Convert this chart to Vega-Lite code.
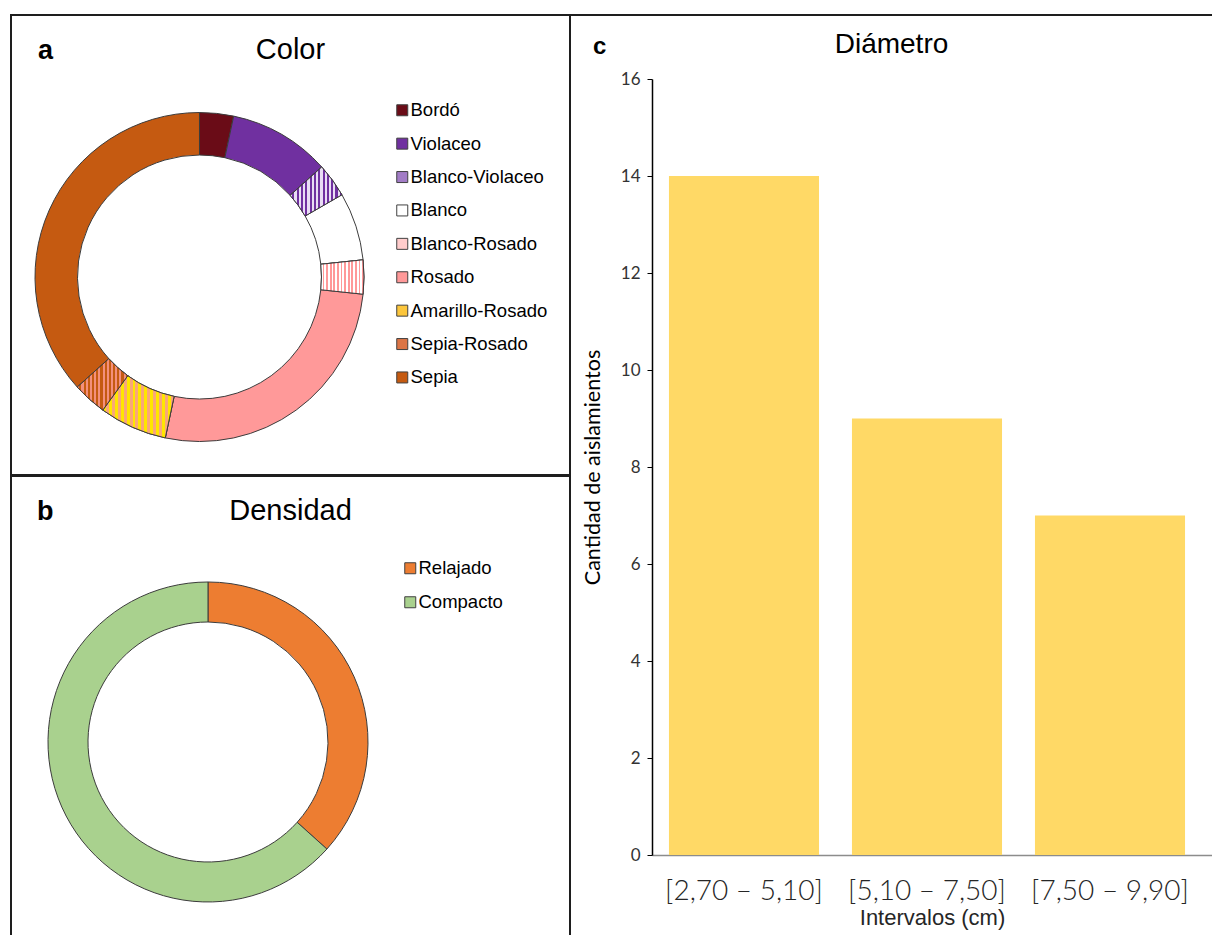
{
  "$schema": "https://vega.github.io/schema/vega-lite/v6.json",
  "padding": {"left": 10, "top": 14, "right": 0, "bottom": 0},
  "background": "white",
  "spacing": -2,
  "config": {"view": {"stroke": null}, "font": "Liberation Sans"},
  "resolve": {"scale": {"color": "independent", "theta": "independent", "x": "independent", "y": "independent"}, "legend": {"color": "independent"}},
  "hconcat": [
    {
      "spacing": -2,
      "resolve": {"scale": {"color": "independent", "theta": "independent", "x": "independent", "y": "independent"}, "legend": {"color": "independent"}},
      "vconcat": [
        {
          "spacing": 0,
          "title": {"text": "Color", "anchor": "middle", "frame": "bounds", "orient": "top", "baseline": "alphabetic", "offset": -74, "font": "Liberation Sans", "fontSize": 29, "fontWeight": "normal", "color": "#000000"},
          "vconcat": [
            {
              "width": 559,
              "height": 460,
              "view": {"stroke": "#1e1e1e", "strokeWidth": 2},
              "title": {"text": "a", "anchor": "start", "frame": "group", "orient": "top", "baseline": "alphabetic", "offset": -71, "dx": 27, "font": "Liberation Sans", "fontSize": 27, "fontWeight": "bold", "color": "#000000"},
              "data": {"values": [
                {"color": "Bordó", "aislamientos": 1},
                {"color": "Violaceo", "aislamientos": 3},
                {"color": "Blanco-Violaceo", "aislamientos": 1},
                {"color": "Blanco", "aislamientos": 2},
                {"color": "Blanco-Rosado", "aislamientos": 1},
                {"color": "Rosado", "aislamientos": 8},
                {"color": "Amarillo-Rosado", "aislamientos": 2},
                {"color": "Sepia-Rosado", "aislamientos": 1},
                {"color": "Sepia", "aislamientos": 11}
              ]},
              "transform": [
                {"window": [{"op": "row_number", "as": "orden"}]},
                {"stack": "aislamientos", "groupby": [], "sort": [{"field": "orden", "order": "ascending"}], "as": ["inicio", "fin"]}
              ],
              "encoding": {
                "x": {"datum": 0.3372, "type": "quantitative", "scale": {"domain": [0, 1], "nice": false, "zero": false}, "axis": null},
                "y": {"datum": 0.4304, "type": "quantitative", "scale": {"domain": [0, 1], "nice": false, "zero": false}, "axis": null},
                "theta": {"field": "inicio", "type": "quantitative", "scale": {"domain": [0, 30]}},
                "theta2": {"field": "fin"}
              },
              "layer": [
                {
                  "mark": {"type": "arc", "outerRadius": 164.5, "innerRadius": 122, "stroke": "#3c3c3c", "strokeWidth": 1},
                  "encoding": {
                    "color": {
                      "field": "color",
                      "type": "nominal",
                      "scale": {
                        "domain": ["Bordó", "Violaceo", "Blanco-Violaceo", "Blanco", "Blanco-Rosado", "Rosado", "Amarillo-Rosado", "Sepia-Rosado", "Sepia"],
                        "range": ["#6a0c17", "#7030a0", "#a27cc6", "#ffffff", "#ffcccc", "#ff9999", "#fcc63c", "#dc7546", "#c55a11"]
                      },
                      "legend": {"title": null, "orient": "none", "direction": "vertical", "legendX": 382, "legendY": 86, "padding": 0, "symbolType": "square", "symbolSize": 121, "symbolStrokeColor": "#404040", "symbolStrokeWidth": 1, "symbolOpacity": 1, "labelFont": "Liberation Sans", "labelFontSize": 18.5, "labelColor": "#000000", "labelOffset": -1, "rowPadding": 14.4, "labelLimit": 300}
                    }
                  }
                },
                {
                  "transform": [{"filter": "datum.color === 'Blanco-Violaceo'"}],
                  "mark": {"type": "arc", "outerRadius": 164.5, "innerRadius": 122, "stroke": "#3c3c3c", "strokeWidth": 1,
                    "fill": {"gradient": "linear", "x1": 0, "y1": 0, "x2": 1, "y2": 0, "stops": [
                      {"offset": 0, "color": "#e9ddf4"}, {"offset": 0.0417, "color": "#e9ddf4"}, {"offset": 0.0417, "color": "#7030a0"}, {"offset": 0.0833, "color": "#7030a0"},
                      {"offset": 0.0833, "color": "#e9ddf4"}, {"offset": 0.125, "color": "#e9ddf4"}, {"offset": 0.125, "color": "#7030a0"}, {"offset": 0.1667, "color": "#7030a0"},
                      {"offset": 0.1667, "color": "#e9ddf4"}, {"offset": 0.2083, "color": "#e9ddf4"}, {"offset": 0.2083, "color": "#7030a0"}, {"offset": 0.25, "color": "#7030a0"},
                      {"offset": 0.25, "color": "#e9ddf4"}, {"offset": 0.2917, "color": "#e9ddf4"}, {"offset": 0.2917, "color": "#7030a0"}, {"offset": 0.3333, "color": "#7030a0"},
                      {"offset": 0.3333, "color": "#e9ddf4"}, {"offset": 0.375, "color": "#e9ddf4"}, {"offset": 0.375, "color": "#7030a0"}, {"offset": 0.4167, "color": "#7030a0"},
                      {"offset": 0.4167, "color": "#e9ddf4"}, {"offset": 0.4583, "color": "#e9ddf4"}, {"offset": 0.4583, "color": "#7030a0"}, {"offset": 0.5, "color": "#7030a0"},
                      {"offset": 0.5, "color": "#e9ddf4"}, {"offset": 0.5417, "color": "#e9ddf4"}, {"offset": 0.5417, "color": "#7030a0"}, {"offset": 0.5833, "color": "#7030a0"},
                      {"offset": 0.5833, "color": "#e9ddf4"}, {"offset": 0.625, "color": "#e9ddf4"}, {"offset": 0.625, "color": "#7030a0"}, {"offset": 0.6667, "color": "#7030a0"},
                      {"offset": 0.6667, "color": "#e9ddf4"}, {"offset": 0.7083, "color": "#e9ddf4"}, {"offset": 0.7083, "color": "#7030a0"}, {"offset": 0.75, "color": "#7030a0"},
                      {"offset": 0.75, "color": "#e9ddf4"}, {"offset": 0.7917, "color": "#e9ddf4"}, {"offset": 0.7917, "color": "#7030a0"}, {"offset": 0.8333, "color": "#7030a0"},
                      {"offset": 0.8333, "color": "#e9ddf4"}, {"offset": 0.875, "color": "#e9ddf4"}, {"offset": 0.875, "color": "#7030a0"}, {"offset": 0.9167, "color": "#7030a0"},
                      {"offset": 0.9167, "color": "#e9ddf4"}, {"offset": 0.9583, "color": "#e9ddf4"}, {"offset": 0.9583, "color": "#7030a0"}, {"offset": 1, "color": "#7030a0"}
                    ]}
                  }
                },
                {
                  "transform": [{"filter": "datum.color === 'Blanco-Rosado'"}],
                  "mark": {"type": "arc", "outerRadius": 164.5, "innerRadius": 122, "stroke": "#3c3c3c", "strokeWidth": 1,
                    "fill": {"gradient": "linear", "x1": 0, "y1": 0, "x2": 1, "y2": 0, "stops": [
                      {"offset": 0, "color": "#ffffff"}, {"offset": 0.0417, "color": "#ffffff"}, {"offset": 0.0417, "color": "#ff9999"}, {"offset": 0.0833, "color": "#ff9999"},
                      {"offset": 0.0833, "color": "#ffffff"}, {"offset": 0.125, "color": "#ffffff"}, {"offset": 0.125, "color": "#ff9999"}, {"offset": 0.1667, "color": "#ff9999"},
                      {"offset": 0.1667, "color": "#ffffff"}, {"offset": 0.2083, "color": "#ffffff"}, {"offset": 0.2083, "color": "#ff9999"}, {"offset": 0.25, "color": "#ff9999"},
                      {"offset": 0.25, "color": "#ffffff"}, {"offset": 0.2917, "color": "#ffffff"}, {"offset": 0.2917, "color": "#ff9999"}, {"offset": 0.3333, "color": "#ff9999"},
                      {"offset": 0.3333, "color": "#ffffff"}, {"offset": 0.375, "color": "#ffffff"}, {"offset": 0.375, "color": "#ff9999"}, {"offset": 0.4167, "color": "#ff9999"},
                      {"offset": 0.4167, "color": "#ffffff"}, {"offset": 0.4583, "color": "#ffffff"}, {"offset": 0.4583, "color": "#ff9999"}, {"offset": 0.5, "color": "#ff9999"},
                      {"offset": 0.5, "color": "#ffffff"}, {"offset": 0.5417, "color": "#ffffff"}, {"offset": 0.5417, "color": "#ff9999"}, {"offset": 0.5833, "color": "#ff9999"},
                      {"offset": 0.5833, "color": "#ffffff"}, {"offset": 0.625, "color": "#ffffff"}, {"offset": 0.625, "color": "#ff9999"}, {"offset": 0.6667, "color": "#ff9999"},
                      {"offset": 0.6667, "color": "#ffffff"}, {"offset": 0.7083, "color": "#ffffff"}, {"offset": 0.7083, "color": "#ff9999"}, {"offset": 0.75, "color": "#ff9999"},
                      {"offset": 0.75, "color": "#ffffff"}, {"offset": 0.7917, "color": "#ffffff"}, {"offset": 0.7917, "color": "#ff9999"}, {"offset": 0.8333, "color": "#ff9999"},
                      {"offset": 0.8333, "color": "#ffffff"}, {"offset": 0.875, "color": "#ffffff"}, {"offset": 0.875, "color": "#ff9999"}, {"offset": 0.9167, "color": "#ff9999"},
                      {"offset": 0.9167, "color": "#ffffff"}, {"offset": 0.9583, "color": "#ffffff"}, {"offset": 0.9583, "color": "#ff9999"}, {"offset": 1, "color": "#ff9999"}
                    ]}
                  }
                },
                {
                  "transform": [{"filter": "datum.color === 'Amarillo-Rosado'"}],
                  "mark": {"type": "arc", "outerRadius": 164.5, "innerRadius": 122, "stroke": "#3c3c3c", "strokeWidth": 1,
                    "fill": {"gradient": "linear", "x1": 0, "y1": 0, "x2": 1, "y2": 0, "stops": [
                      {"offset": 0, "color": "#ffe600"}, {"offset": 0.0417, "color": "#ffe600"}, {"offset": 0.0417, "color": "#f9a779"}, {"offset": 0.0833, "color": "#f9a779"},
                      {"offset": 0.0833, "color": "#ffe600"}, {"offset": 0.125, "color": "#ffe600"}, {"offset": 0.125, "color": "#f9a779"}, {"offset": 0.1667, "color": "#f9a779"},
                      {"offset": 0.1667, "color": "#ffe600"}, {"offset": 0.2083, "color": "#ffe600"}, {"offset": 0.2083, "color": "#f9a779"}, {"offset": 0.25, "color": "#f9a779"},
                      {"offset": 0.25, "color": "#ffe600"}, {"offset": 0.2917, "color": "#ffe600"}, {"offset": 0.2917, "color": "#f9a779"}, {"offset": 0.3333, "color": "#f9a779"},
                      {"offset": 0.3333, "color": "#ffe600"}, {"offset": 0.375, "color": "#ffe600"}, {"offset": 0.375, "color": "#f9a779"}, {"offset": 0.4167, "color": "#f9a779"},
                      {"offset": 0.4167, "color": "#ffe600"}, {"offset": 0.4583, "color": "#ffe600"}, {"offset": 0.4583, "color": "#f9a779"}, {"offset": 0.5, "color": "#f9a779"},
                      {"offset": 0.5, "color": "#ffe600"}, {"offset": 0.5417, "color": "#ffe600"}, {"offset": 0.5417, "color": "#f9a779"}, {"offset": 0.5833, "color": "#f9a779"},
                      {"offset": 0.5833, "color": "#ffe600"}, {"offset": 0.625, "color": "#ffe600"}, {"offset": 0.625, "color": "#f9a779"}, {"offset": 0.6667, "color": "#f9a779"},
                      {"offset": 0.6667, "color": "#ffe600"}, {"offset": 0.7083, "color": "#ffe600"}, {"offset": 0.7083, "color": "#f9a779"}, {"offset": 0.75, "color": "#f9a779"},
                      {"offset": 0.75, "color": "#ffe600"}, {"offset": 0.7917, "color": "#ffe600"}, {"offset": 0.7917, "color": "#f9a779"}, {"offset": 0.8333, "color": "#f9a779"},
                      {"offset": 0.8333, "color": "#ffe600"}, {"offset": 0.875, "color": "#ffe600"}, {"offset": 0.875, "color": "#f9a779"}, {"offset": 0.9167, "color": "#f9a779"},
                      {"offset": 0.9167, "color": "#ffe600"}, {"offset": 0.9583, "color": "#ffe600"}, {"offset": 0.9583, "color": "#f9a779"}, {"offset": 1, "color": "#f9a779"}
                    ]}
                  }
                },
                {
                  "transform": [{"filter": "datum.color === 'Sepia-Rosado'"}],
                  "mark": {"type": "arc", "outerRadius": 164.5, "innerRadius": 122, "stroke": "#3c3c3c", "strokeWidth": 1,
                    "fill": {"gradient": "linear", "x1": 0, "y1": 0, "x2": 1, "y2": 0, "stops": [
                      {"offset": 0, "color": "#f3907c"}, {"offset": 0.0417, "color": "#f3907c"}, {"offset": 0.0417, "color": "#c55a11"}, {"offset": 0.0833, "color": "#c55a11"},
                      {"offset": 0.0833, "color": "#f3907c"}, {"offset": 0.125, "color": "#f3907c"}, {"offset": 0.125, "color": "#c55a11"}, {"offset": 0.1667, "color": "#c55a11"},
                      {"offset": 0.1667, "color": "#f3907c"}, {"offset": 0.2083, "color": "#f3907c"}, {"offset": 0.2083, "color": "#c55a11"}, {"offset": 0.25, "color": "#c55a11"},
                      {"offset": 0.25, "color": "#f3907c"}, {"offset": 0.2917, "color": "#f3907c"}, {"offset": 0.2917, "color": "#c55a11"}, {"offset": 0.3333, "color": "#c55a11"},
                      {"offset": 0.3333, "color": "#f3907c"}, {"offset": 0.375, "color": "#f3907c"}, {"offset": 0.375, "color": "#c55a11"}, {"offset": 0.4167, "color": "#c55a11"},
                      {"offset": 0.4167, "color": "#f3907c"}, {"offset": 0.4583, "color": "#f3907c"}, {"offset": 0.4583, "color": "#c55a11"}, {"offset": 0.5, "color": "#c55a11"},
                      {"offset": 0.5, "color": "#f3907c"}, {"offset": 0.5417, "color": "#f3907c"}, {"offset": 0.5417, "color": "#c55a11"}, {"offset": 0.5833, "color": "#c55a11"},
                      {"offset": 0.5833, "color": "#f3907c"}, {"offset": 0.625, "color": "#f3907c"}, {"offset": 0.625, "color": "#c55a11"}, {"offset": 0.6667, "color": "#c55a11"},
                      {"offset": 0.6667, "color": "#f3907c"}, {"offset": 0.7083, "color": "#f3907c"}, {"offset": 0.7083, "color": "#c55a11"}, {"offset": 0.75, "color": "#c55a11"},
                      {"offset": 0.75, "color": "#f3907c"}, {"offset": 0.7917, "color": "#f3907c"}, {"offset": 0.7917, "color": "#c55a11"}, {"offset": 0.8333, "color": "#c55a11"},
                      {"offset": 0.8333, "color": "#f3907c"}, {"offset": 0.875, "color": "#f3907c"}, {"offset": 0.875, "color": "#c55a11"}, {"offset": 0.9167, "color": "#c55a11"},
                      {"offset": 0.9167, "color": "#f3907c"}, {"offset": 0.9583, "color": "#f3907c"}, {"offset": 0.9583, "color": "#c55a11"}, {"offset": 1, "color": "#c55a11"}
                    ]}
                  }
                }
              ]
            }
          ]
        },
        {
          "spacing": 0,
          "title": {"text": "Densidad", "anchor": "middle", "frame": "bounds", "orient": "top", "baseline": "alphabetic", "offset": -74, "font": "Liberation Sans", "fontSize": 29, "fontWeight": "normal", "color": "#000000"},
          "vconcat": [
            {
              "width": 559,
              "height": 459,
              "view": {"stroke": "#1e1e1e", "strokeWidth": 2, "strokeDash": [1018, 559, 459]},
              "title": {"text": "b", "anchor": "start", "frame": "group", "orient": "top", "baseline": "alphabetic", "offset": -71, "dx": 26, "font": "Liberation Sans", "fontSize": 27, "fontWeight": "bold", "color": "#000000"},
              "data": {"values": [
                {"densidad": "Relajado", "aislamientos": 11},
                {"densidad": "Compacto", "aislamientos": 19}
              ]},
              "transform": [
                {"window": [{"op": "row_number", "as": "orden"}]},
                {"stack": "aislamientos", "groupby": [], "sort": [{"field": "orden", "order": "ascending"}], "as": ["inicio", "fin"]}
              ],
              "mark": {"type": "arc", "outerRadius": 160, "innerRadius": 120, "stroke": "#3c3c3c", "strokeWidth": 1},
              "encoding": {
                "x": {"datum": 0.3524, "type": "quantitative", "scale": {"domain": [0, 1], "nice": false, "zero": false}, "axis": null},
                "y": {"datum": 0.4205, "type": "quantitative", "scale": {"domain": [0, 1], "nice": false, "zero": false}, "axis": null},
                "theta": {"field": "inicio", "type": "quantitative", "scale": {"domain": [0, 30]}},
                "theta2": {"field": "fin"},
                "color": {
                  "field": "densidad",
                  "type": "nominal",
                  "scale": {"domain": ["Relajado", "Compacto"], "range": ["#ed7d31", "#a9d18e"]},
                  "legend": {"title": null, "orient": "none", "direction": "vertical", "legendX": 390, "legendY": 83, "padding": 0, "symbolType": "square", "symbolSize": 121, "symbolStrokeColor": "#404040", "symbolStrokeWidth": 1, "symbolOpacity": 1, "labelFont": "Liberation Sans", "labelFontSize": 18.5, "labelColor": "#000000", "labelOffset": -1, "rowPadding": 15, "labelLimit": 300}
                }
              }
            }
          ]
        }
      ]
    },
    {
      "spacing": 0,
      "title": {"text": "Diámetro", "anchor": "middle", "frame": "bounds", "orient": "top", "baseline": "alphabetic", "offset": -67, "font": "Liberation Sans", "fontSize": 28, "fontWeight": "normal", "color": "#000000"},
      "vconcat": [
        {
          "width": 641,
          "height": 920,
          "view": {"stroke": "#1e1e1e", "strokeWidth": 2, "strokeDash": [641, 4000]},
          "title": {"text": "c", "anchor": "start", "frame": "group", "orient": "top", "baseline": "alphabetic", "offset": -63, "dx": 22, "font": "Liberation Sans", "fontSize": 24, "fontWeight": "bold", "color": "#000000"},
          "data": {"values": [
            {"intervalo": "[2,70 – 5,10]", "aislamientos": 14},
            {"intervalo": "[5,10 – 7,50]", "aislamientos": 9},
            {"intervalo": "[7,50 – 9,90]", "aislamientos": 7}
          ]},
          "mark": {"type": "bar", "color": "#ffd966"},
          "encoding": {
            "x": {
              "field": "intervalo",
              "type": "nominal",
              "sort": null,
              "scale": {"range": [81, 641], "paddingInner": 0.18, "paddingOuter": 0.12, "align": 0.386},
              "axis": {"title": "Intervalos (cm)", "orient": "bottom", "offset": -80, "labelAngle": 0, "ticks": false, "tickSize": 0, "domainColor": "#8c8c8c", "domainWidth": 1.5, "labelFont": "Lato", "labelFontWeight": 300, "labelFontSize": 28, "labelColor": "#262626", "labelPadding": 22, "labelLimit": 300, "titleFont": "Liberation Sans", "titleFontSize": 22, "titleFontWeight": "normal", "titleColor": "#262626", "titlePadding": 2}
            },
            "y": {
              "field": "aislamientos",
              "type": "quantitative",
              "scale": {"domain": [0, 16], "range": [840, 64], "nice": false},
              "axis": {"title": "Cantidad de aislamientos", "orient": "left", "offset": -81, "values": [0, 2, 4, 6, 8, 10, 12, 14, 16], "grid": false, "tickSize": 5, "tickColor": "#000000", "domainColor": "#000000", "domainWidth": 1.5, "labelFont": "Lato", "labelFontSize": 17, "labelColor": "#333333", "labelPadding": 7, "titleFont": "Lato", "titleFontSize": 21.5, "titleFontWeight": "normal", "titleColor": "#000000", "titlePadding": 16}
            }
          }
        }
      ]
    }
  ]
}
